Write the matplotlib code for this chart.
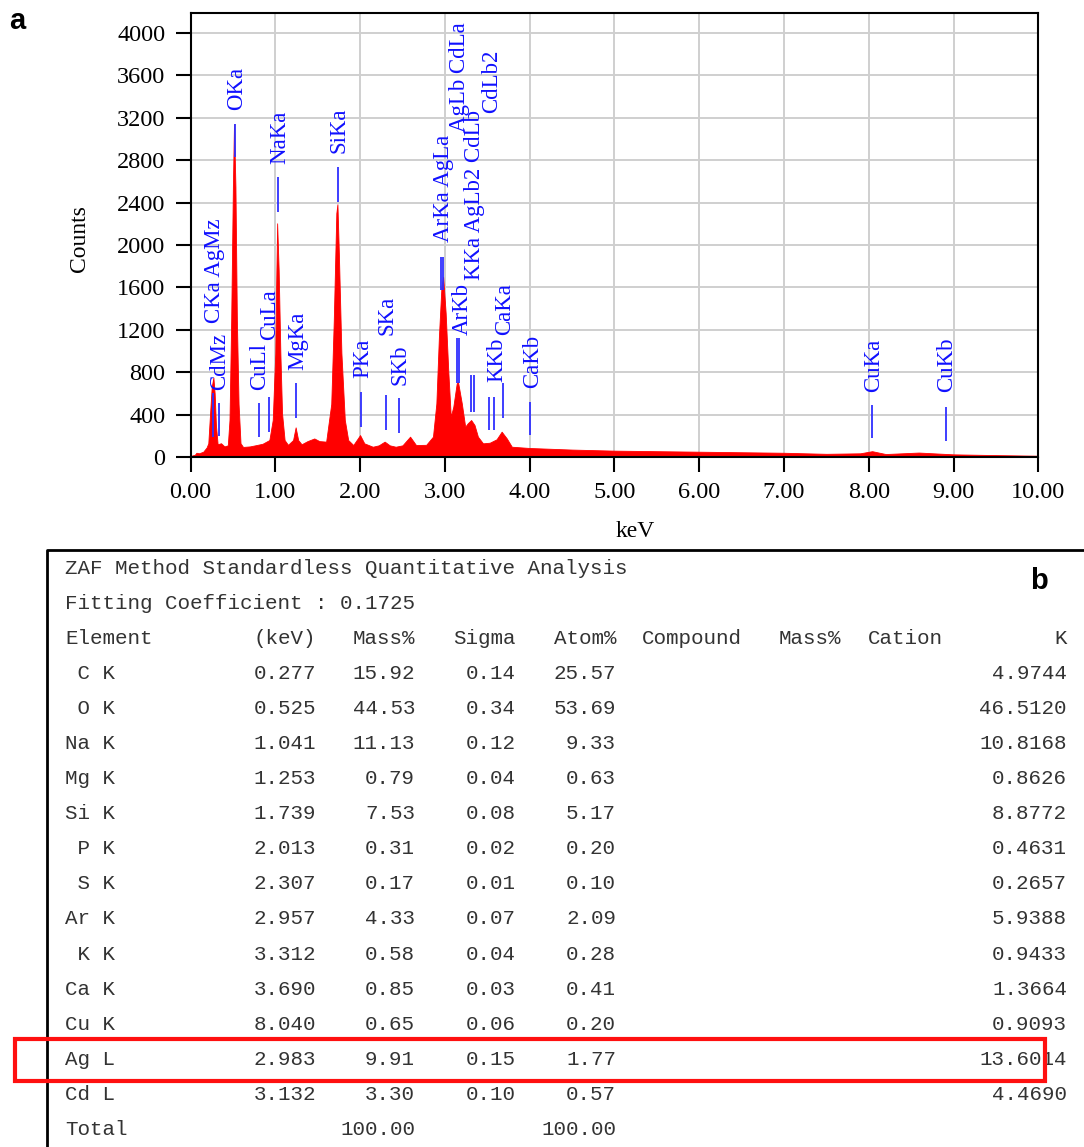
import numpy as np
import matplotlib
matplotlib.use("Agg")
from matplotlib import pyplot as plt
from matplotlib.patches import Rectangle

# spectrum (keV, counts)
spec_kev = [0.00, 0.02, 0.05, 0.07, 0.10, 0.15, 0.19, 0.21, 0.23, 0.25, 0.27, 0.285, 0.30, 0.32,
            0.36, 0.40, 0.44, 0.46, 0.48, 0.50, 0.513, 0.53, 0.547, 0.567, 0.59, 0.62, 0.70,
            0.78, 0.85, 0.93, 0.97, 1.00, 1.01, 1.022, 1.04, 1.06, 1.08, 1.11, 1.15, 1.21,
            1.24, 1.27, 1.31, 1.38, 1.46, 1.52, 1.60, 1.66, 1.69, 1.72, 1.733, 1.75, 1.78,
            1.82, 1.86, 1.92, 2.00, 2.05, 2.15, 2.22, 2.29, 2.35, 2.42, 2.50, 2.59, 2.66,
            2.78, 2.86, 2.90, 2.93, 2.96, 2.98, 3.01, 3.04, 3.07, 3.10, 3.14, 3.155, 3.20,
            3.24, 3.27, 3.31, 3.35, 3.39, 3.45, 3.53, 3.61, 3.67, 3.73, 3.79, 4.00, 4.50,
            5.00, 5.50, 6.00, 6.50, 7.00, 7.50, 7.90, 8.04, 8.20, 8.59, 9.00, 9.50, 10.00]
spec_counts = [0, 15, 20, 40, 35, 50, 90, 130, 400, 660, 750, 600, 300, 120,
               130, 100, 110, 350, 1290, 2550, 3140, 2550, 1290, 500, 130, 95, 100,
               113, 125, 160, 350, 980, 1600, 2205, 1760, 980, 410, 160, 115, 160,
               280, 160, 120, 150, 175, 150, 145, 500, 1290, 2300, 2385, 1920, 980,
               350, 160, 113, 207, 129, 97, 110, 145, 110, 97, 110, 192, 113,
               115, 192, 506, 1135, 1607, 1700, 1355, 820, 380, 475, 695, 710, 506,
               286, 318, 349, 302, 192, 129, 135, 167, 239, 176, 97, 85, 70,
               60, 55, 50, 45, 40, 30, 35, 55, 28, 42, 25, 18, 12]

# element lines marked on the spectrum
line_kev = [0.270, 0.334, 0.525, 0.807, 0.925, 1.035, 1.248, 1.736, 2.010, 2.306, 2.460,
            2.957, 2.983, 3.140, 3.170, 3.310, 3.340, 3.520, 3.580, 3.690, 4.000, 8.040, 8.910]
line_lo = [190, 200, 2830, 190, 240, 2314, 368, 2408, 286, 255, 226,
           1575, 1575, 698, 698, 427, 427, 255, 255, 365, 208, 176, 154]
line_hi = [600, 510, 3140, 507, 569, 2644, 698, 2738, 616, 585, 556,
           1890, 1890, 1120, 1120, 773, 773, 569, 569, 695, 522, 490, 469]

label_text = ["CKa AgMz", "CdMz", "OKa", "CuLl", "CuLa", "NaKa", "MgKa", "SiKa", "PKa",
              "SKa", "SKb", "ArKa AgLa", "AgLb CdLa", "CdLb2", "KKa AgLb2 CdLb", "ArKb",
              "KKb", "CaKa", "CaKb", "CuKa", "CuKb"]
label_kev = [0.283, 0.342, 0.539, 0.815, 0.933, 1.050, 1.267, 1.750, 2.027,
             2.320, 2.475, 2.980, 3.170, 3.550, 3.350, 3.210,
             3.610, 3.710, 4.040, 8.055, 8.920]
label_bottom = [1261, 632, 3274, 632, 1104, 2764, 821, 2868, 742,
                1151, 679, 2031, 3069, 3242, 1670, 1151,
                710, 1151, 648, 616, 616]

# ZAF table
elements = [" C K", " O K", "Na K", "Mg K", "Si K", " P K", " S K", "Ar K", " K K",
            "Ca K", "Cu K", "Ag L", "Cd L"]
kev = [0.277, 0.525, 1.041, 1.253, 1.739, 2.013, 2.307, 2.957, 3.312, 3.690, 8.040, 2.983, 3.132]
mass = [15.92, 44.53, 11.13, 0.79, 7.53, 0.31, 0.17, 4.33, 0.58, 0.85, 0.65, 9.91, 3.30]
sigma = [0.14, 0.34, 0.12, 0.04, 0.08, 0.02, 0.01, 0.07, 0.04, 0.03, 0.06, 0.15, 0.10]
atom = [25.57, 53.69, 9.33, 0.63, 5.17, 0.20, 0.10, 2.09, 0.28, 0.41, 0.20, 1.77, 0.57]
kval = [4.9744, 46.5120, 10.8168, 0.8626, 8.8772, 0.4631, 0.2657, 5.9388, 0.9433,
        1.3664, 0.9093, 13.6014, 4.4690]
mass_total = 100.00
atom_total = 100.00
highlight = "Ag L"

W, H = 1084, 1147
fig = plt.figure(figsize=(W / 100, H / 100), dpi=100)

# ---- table panel (pixel coordinates) ----
tb = fig.add_axes([0, 0, 1, 1])
tb.set_xlim(0, W)
tb.set_ylim(H, 0)
tb.axis("off")

mono = dict(family="Liberation Mono", fontsize=15, color="#333333", va="center")
row0, step = 568, 35.1
tb.plot([47, 47, W], [H, 550, 550], color="black", lw=2)
tb.text(65, row0, "ZAF Method Standardless Quantitative Analysis", ha="left", **mono)
tb.text(65, row0 + step, "Fitting Coefficient : 0.1725", ha="left", **mono)
hy = row0 + 2 * step
tb.text(65, hy, "Element", ha="left", **mono)
tb.text(316, hy, "(keV)", ha="right", **mono)
tb.text(415, hy, "Mass%", ha="right", **mono)
tb.text(516, hy, "Sigma", ha="right", **mono)
tb.text(616, hy, "Atom%", ha="right", **mono)
tb.text(642, hy, "Compound", ha="left", **mono)
tb.text(779, hy, "Mass%", ha="left", **mono)
tb.text(868, hy, "Cation", ha="left", **mono)
tb.text(1067, hy, "K", ha="right", **mono)

for i, el in enumerate(elements):
    y = row0 + (3 + i) * step
    tb.text(65, y, el, ha="left", **mono)
    tb.text(316, y, "%.3f" % kev[i], ha="right", **mono)
    tb.text(415, y, "%.2f" % mass[i], ha="right", **mono)
    tb.text(516, y, "%.2f" % sigma[i], ha="right", **mono)
    tb.text(616, y, "%.2f" % atom[i], ha="right", **mono)
    tb.text(1067, y, "%.4f" % kval[i], ha="right", **mono)
    if el == highlight:
        tb.add_patch(Rectangle((15, y - 20), 1030, 42, fill=False, ec="#ff1010", lw=3, zorder=5))

ty = row0 + (3 + len(elements)) * step
tb.text(65, ty, "Total", ha="left", **mono)
tb.text(415, ty, "%.2f" % mass_total, ha="right", **mono)
tb.text(616, ty, "%.2f" % atom_total, ha="right", **mono)

tb.text(17, 21, "a", fontsize=21, fontweight="bold", family="Liberation Sans", ha="center", va="center")
tb.text(1039, 581, "b", fontsize=21, fontweight="bold", family="Liberation Sans", ha="center", va="center")

# ---- spectrum panel ----
ax = fig.add_axes([190.5 / W, 1 - 457 / H, 847.8 / W, 444 / H])
ax.fill_between(spec_kev, spec_counts, 0, color="#ff0000", lw=0.6, ec="#ff0000", zorder=2)
ax.set_xlim(0, 10)
ax.set_ylim(0, 4189)
ax.set_xticks(np.arange(0, 11, 1))
ax.set_xticklabels(["%.2f" % v for v in range(11)])
ax.set_yticks(np.arange(0, 4001, 400))
ax.grid(True, color="#cfcfcf", lw=1.4, zorder=0)
ax.set_axisbelow(True)
for s in ax.spines.values():
    s.set_linewidth(1.5)
ax.tick_params(direction="out", length=11, width=1.5, pad=7, labelsize=17.5)
for lab in ax.get_xticklabels() + ax.get_yticklabels():
    lab.set_family("Liberation Serif")

ax.vlines(line_kev, line_lo, line_hi, color="#2f2fff", lw=1.3, zorder=3)
for t, x, b in zip(label_text, label_kev, label_bottom):
    ax.text(x, b, t, rotation=90, ha="center", va="bottom", color="#1010ff",
            family="Liberation Serif", fontsize=16.5, zorder=4)

ax.set_ylabel("Counts", family="Liberation Serif", fontsize=17)
ax.set_xlabel("keV", family="Liberation Serif", fontsize=17)
ax.yaxis.set_label_coords(-0.118, 0.493)
ax.xaxis.set_label_coords(0.524, -0.145)

fig.savefig("out.png", dpi=100)
